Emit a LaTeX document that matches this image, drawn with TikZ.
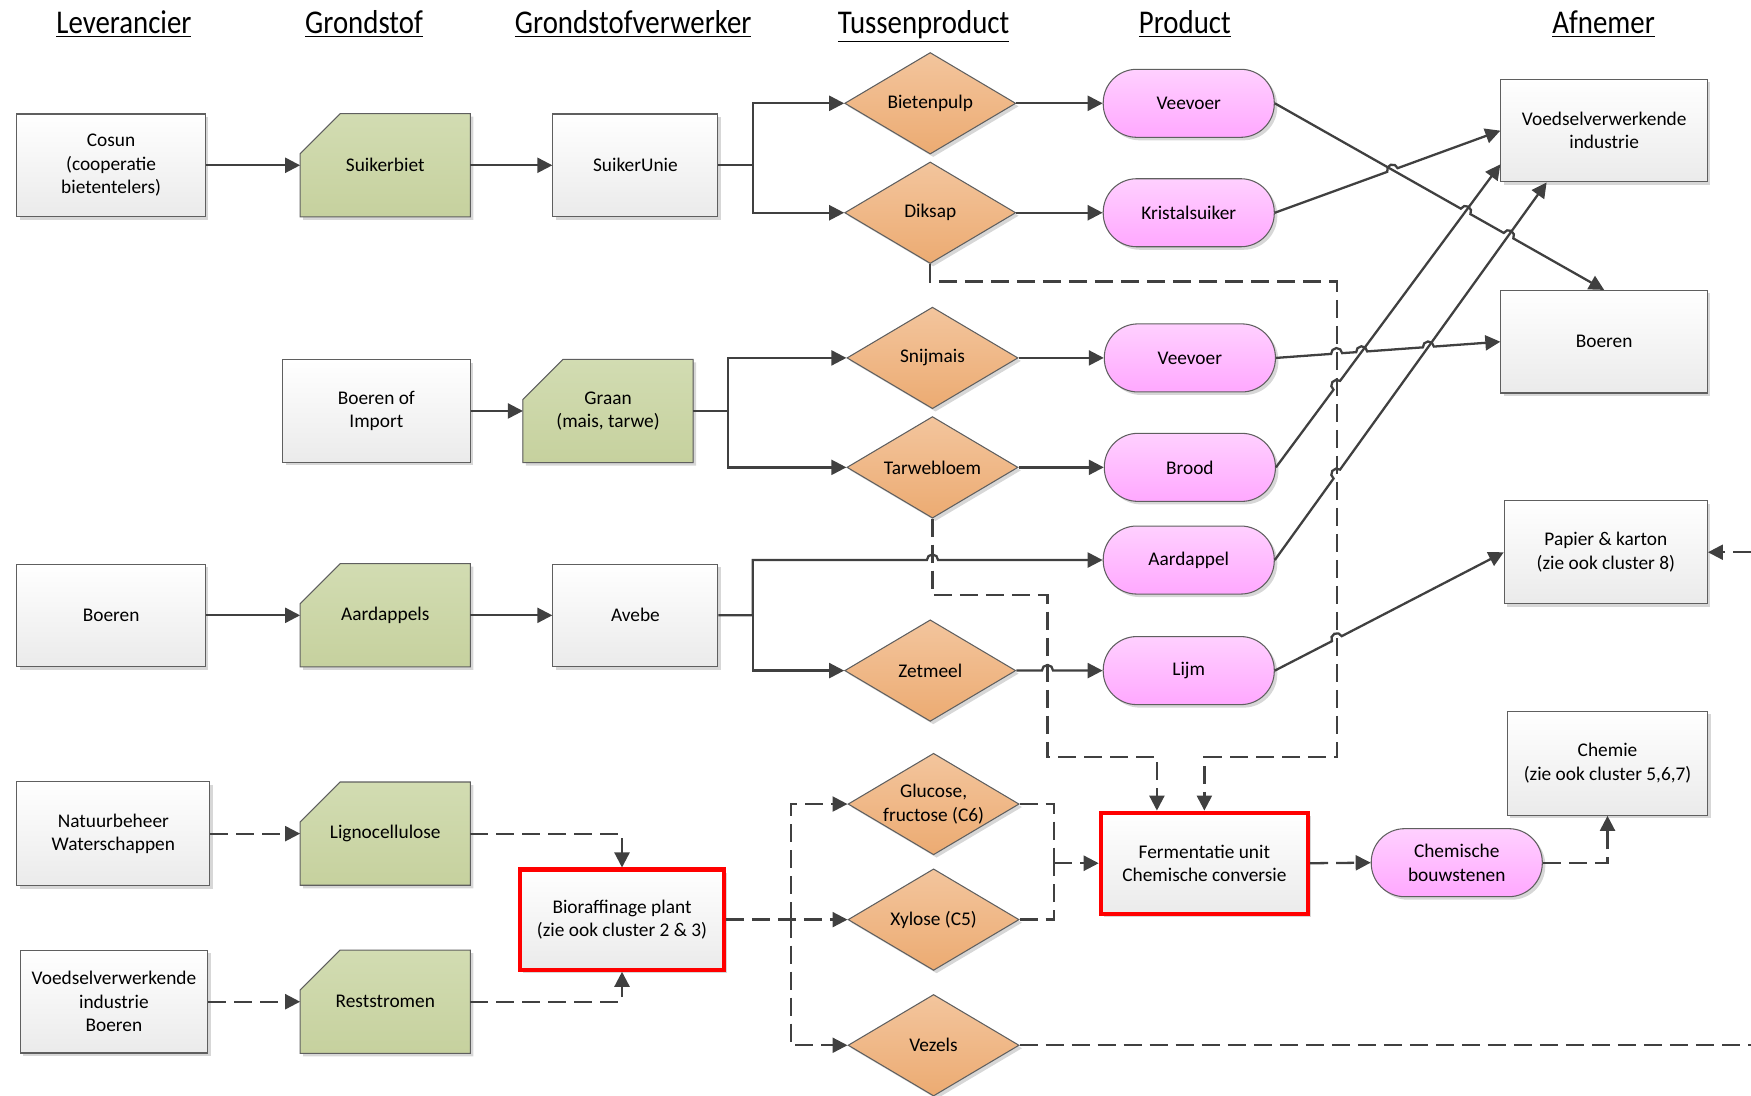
\documentclass[tikz,border=0pt]{standalone}
\usepackage{fontspec}
\setmainfont{Carlito}
\usetikzlibrary{shapes.geometric,arrows.meta,positioning,calc,shadows,backgrounds}

\definecolor{lijn}{RGB}{64,64,64}
\definecolor{rand}{RGB}{95,95,95}
\definecolor{oranjeboven}{RGB}{243,197,157}
\definecolor{oranjeonder}{RGB}{236,171,114}
\definecolor{roseboven}{RGB}{255,208,255}
\definecolor{roseonder}{RGB}{255,168,255}
\definecolor{groenboven}{RGB}{210,220,178}
\definecolor{groenonder}{RGB}{198,209,158}
\definecolor{rood}{RGB}{255,0,0}

\begin{document}
\begin{tikzpicture}[
    x=0.022321cm, y=0.022321cm,
    font=\fontsize{11}{13.3}\selectfont,
    schaduw/.style={drop shadow={shadow xshift=0.06cm, shadow yshift=-0.06cm, fill=black!45, opacity=0.35}},
    box/.style={rectangle, draw=rand, line width=0.6pt, top color=white, bottom color=black!8, minimum width=3.77cm, minimum height=2.05cm, align=center, schaduw},
    rodebox/.style={box, draw=rood, line width=2.4pt},
    grond/.style={rectangle, minimum width=3.39cm, minimum height=2.05cm, align=center},
    grondvlak/.style={draw=rand, line width=0.6pt, top color=groenboven, bottom color=groenonder, schaduw},
    tussen/.style={diamond, aspect=1.68, inner sep=-4pt, minimum width=3.42cm, minimum height=2.03cm, draw=rand, line width=0.6pt, top color=oranjeboven, bottom color=oranjeonder, align=center, schaduw},
    product/.style={rectangle, rounded corners=0.67cm, minimum width=3.42cm, minimum height=1.36cm, draw=rand, line width=0.6pt, top color=roseboven, bottom color=roseonder, align=center, schaduw},
    kop/.style={anchor=base, font=\fontsize{16.4}{19}\selectfont},
    pijl/.style={-{Triangle[length=0.3cm, width=0.3cm]}, lijn, line width=1.3pt},
    stippel/.style={lijn, line width=1.3pt, dash pattern=on 0.36cm off 0.16cm},
    stippelpijl/.style={pijl, dash pattern=on 0.36cm off 0.16cm}
]
    \useasboundingbox (0,0) rectangle (1568,-981);

    % Koppen
    \node[kop] (klev) at (111,-30) {\scalebox{1}[1.15]{\underline{Leverancier}}};
    \node[kop] (kgrond) at (326,-30) {\scalebox{1}[1.15]{\underline{Grondstof}}};
    \node[kop] (kverw) at (567,-30) {\scalebox{1}[1.15]{\underline{Grondstofverwerker}}};
    \node[kop] (ktussen) at (827,-30) {\scalebox{1}[1.15]{\underline{Tussenproduct}}};
    \node[kop] (kprod) at (1061,-30) {\scalebox{1}[1.15]{\underline{Product}}};
    \node[kop] (kafn) at (1436,-30) {\scalebox{1}[1.15]{\underline{Afnemer}}};

    % Suikerbiet
    \node[box] (cosun) at (99.5,-148) {Cosun\\(cooperatie\\bietentelers)};
    \node[grond] (suikerbiet) at (345,-148) {Suikerbiet};
    \node[box, minimum width=3.30cm] (suikerunie) at (569,-148) {SuikerUnie};
    \node[tussen] (bietenpulp) at (833,-92.5) {Bietenpulp};
    \node[tussen] (diksap) at (833,-190.5) {Diksap};
    \node[product] (veevoera) at (1064.5,-92.5) {Veevoer};
    \node[product] (kristalsuiker) at (1064.5,-190.5) {Kristalsuiker};

    % Afnemers
    \node[box, minimum width=4.13cm] (voedsel) at (1436.5,-117) {Voedselverwerkende\\industrie};
    \node[box, minimum width=4.13cm] (boerenafn) at (1436.5,-306) {Boeren};
    \node[box, minimum width=4.06cm] (papier) at (1438,-494.5) {Papier \& karton\\(zie ook cluster 8)};
    \node[box, minimum width=4.0cm, minimum height=2.08cm] (chemie) at (1439.5,-683.5) {Chemie\\(zie ook cluster 5,6,7)};

    % Graan
    \node[box, minimum width=3.75cm] (boerenimport) at (337,-368) {Boeren of\\Import};
    \node[grond] (graan) at (544.5,-368) {Graan\\(mais, tarwe)};
    \node[tussen] (snijmais) at (835,-320.5) {Snijmais};
    \node[tussen] (tarwebloem) at (835,-418.5) {Tarwebloem};
    \node[product] (veevoerb) at (1065.5,-320.5) {Veevoer};
    \node[product] (brood) at (1065.5,-418.5) {Brood};

    % Aardappel
    \node[box] (boerenlev) at (99.5,-551) {Boeren};
    \node[grond] (aardappels) at (345,-551) {Aardappels};
    \node[box, minimum width=3.30cm] (avebe) at (569,-551) {Avebe};
    \node[product] (aardappel) at (1064.5,-501.5) {Aardappel};
    \node[tussen] (zetmeel) at (833,-600.5) {Zetmeel};
    \node[product] (lijm) at (1064.5,-600.5) {Lijm};

    % Bioraffinage
    \node[box, minimum width=3.86cm, minimum height=2.08cm] (natuur) at (101.5,-746.5) {Natuurbeheer\\Waterschappen};
    \node[grond] (ligno) at (345,-746.5) {Lignocellulose};
    \node[box, minimum width=3.75cm] (vibo) at (102,-897) {Voedselverwerkende\\industrie\\Boeren};
    \node[grond] (rest) at (345,-897) {Reststromen};
    \node[rodebox, minimum width=4.07cm, minimum height=2.0cm] (bio) at (557,-823.5) {Bioraffinage plant\\(zie ook cluster 2 \& 3)};
    \node[tussen] (glucose) at (836,-720) {Glucose,\\fructose (C6)};
    \node[tussen] (xylose) at (836,-823.5) {Xylose (C5)};
    \node[tussen] (vezels) at (836,-936) {Vezels};
    \node[rodebox, minimum width=4.14cm, minimum height=2.02cm] (ferment) at (1078.5,-773) {Fermentatie unit\\Chemische conversie};
    \node[product] (bouw) at (1304.5,-772.5) {Chemische\\bouwstenen};

    % Grondstof vlakken
    \begin{scope}[on background layer]
        \foreach \g in {suikerbiet,graan,aardappels,ligno,rest}
            \filldraw[grondvlak] (\g.south west) -- (\g.south east) -- (\g.north east)
                -- ([xshift=0.8cm]\g.north west) -- ([yshift=-0.8cm]\g.north west) -- cycle;
    \end{scope}

    % Hulppunten
    \coordinate (sp1) at (674,-148);
    \coordinate (sp2) at (652,-368);
    \coordinate (sp3) at (674,-551);
    \coordinate (dk1) at (1197,-252);
    \coordinate (dk2) at (1197,-678);
    \coordinate (tw4) at (1036,-678);
    \coordinate (split) at (708,-823.5);
    \coordinate (samen) at (944,-773);
    \coordinate (randa) at (1568,-494.5);
    \coordinate (randb) at (1568,-936);

    % Kruispunten
    \coordinate (jA) at (intersection of veevoera.east--boerenafn.north and kristalsuiker.east--voedsel.west);
    \coordinate (jB) at (intersection of veevoera.east--boerenafn.north and brood.east--voedsel.198);
    \coordinate (jC) at (intersection of veevoera.east--boerenafn.north and aardappel.east--voedsel.222);
    \coordinate (jD) at (intersection of veevoerb.east--boerenafn.west and dk1--dk2);
    \coordinate (jE) at (intersection of veevoerb.east--boerenafn.west and brood.east--voedsel.198);
    \coordinate (jF) at (intersection of veevoerb.east--boerenafn.west and aardappel.east--voedsel.222);
    \coordinate (jG) at (intersection of brood.east--voedsel.198 and dk1--dk2);
    \coordinate (jH) at (intersection of aardappel.east--voedsel.222 and dk1--dk2);
    \coordinate (jI) at (intersection of lijm.east--papier.west and dk1--dk2);

    % Pijlen suikerbiet
    \draw[pijl] (cosun) -- (suikerbiet);
    \draw[pijl] (suikerbiet) -- (suikerunie);
    \draw[pijl] (suikerunie.east) -- (sp1) |- (bietenpulp.west);
    \draw[pijl] (sp1) |- (diksap.west);
    \draw[pijl] (bietenpulp) -- (veevoera);
    \draw[pijl] (diksap) -- (kristalsuiker);

    % Pijlen graan
    \draw[pijl] (boerenimport) -- (graan);
    \draw[pijl] (graan.east) -- (sp2) |- (snijmais.west);
    \draw[pijl] (sp2) |- (tarwebloem.west);
    \draw[pijl] (snijmais) -- (veevoerb);
    \draw[pijl] (tarwebloem) -- (brood);

    % Pijlen aardappel
    \draw[pijl] (boerenlev) -- (aardappels);
    \draw[pijl] (aardappels) -- (avebe);
    \draw[pijl] (avebe.east) -- (sp3) -- (674,-501.5) -- (830,-501.5) arc[start angle=180, end angle=0, radius=0.1116cm] -- (aardappel.west);
    \draw[pijl] (sp3) |- (zetmeel.west);
    \draw[pijl] (zetmeel.east) -- (933,-600.5) arc[start angle=180, end angle=0, radius=0.1116cm] -- (lijm.west);

    % Pijlen naar afnemers
    \draw[pijl] (veevoera.east) -- ($(jB)!0.11cm!(veevoera.east)$) arc[start angle=150.3, end angle=-29.7, radius=0.11cm]
        -- ($(jC)!0.11cm!(veevoera.east)$) arc[start angle=150.3, end angle=-29.7, radius=0.11cm] -- (boerenafn.north);
    \draw[pijl] (kristalsuiker.east) -- ($(jA)!0.11cm!(kristalsuiker.east)$) arc[start angle=199.5, end angle=19.5, radius=0.11cm] -- (voedsel.west);
    \draw[pijl] (veevoerb.east) -- ($(jD)!0.11cm!(veevoerb.east)$) arc[start angle=184, end angle=4, radius=0.11cm]
        -- ($(jE)!0.11cm!(veevoerb.east)$) arc[start angle=184, end angle=4, radius=0.11cm]
        -- ($(jF)!0.11cm!(veevoerb.east)$) arc[start angle=184, end angle=4, radius=0.11cm] -- (boerenafn.west);
    \draw[pijl] (brood.east) -- ($(jG)!0.11cm!(brood.east)$) arc[start angle=233.4, end angle=53.4, radius=0.11cm] -- (voedsel.198);
    \draw[pijl] (aardappel.east) -- ($(jH)!0.11cm!(aardappel.east)$) arc[start angle=234.1, end angle=54.1, radius=0.11cm] -- (voedsel.222);
    \draw[pijl] (lijm.east) -- ($(jI)!0.11cm!(lijm.east)$) arc[start angle=207, end angle=27, radius=0.11cm] -- (papier.west);

    % Stippellijnen naar fermentatie
    \draw[stippelpijl] (diksap.south) -- (diksap.south |- dk1) -- (dk1) -- (dk2) -| (ferment.north);
    \draw[stippelpijl] (tarwebloem.south) -- (835,-533) -- (938,-533) -- (938,-678) -- (tw4) -- (tw4 |- ferment.north);

    % Stippellijnen bioraffinage
    \draw[stippelpijl] (natuur) -- (ligno);
    \draw[stippelpijl] (vibo) -- (rest);
    \draw[stippelpijl] (ligno.east) -| (bio.north);
    \draw[stippelpijl] (rest.east) -| (bio.south);
    \draw[stippelpijl] (bio.east) -- (xylose.west);
    \draw[stippelpijl] (split) |- (glucose.west);
    \draw[stippelpijl] (split) |- (vezels.west);
    \draw[stippel] (glucose.east) -| (samen);
    \draw[stippel] (xylose.east) -| (samen);
    \draw[stippelpijl] (samen) -- (ferment.west);
    \draw[stippelpijl] (ferment.east) -- (bouw.west);
    \draw[stippelpijl] (bouw.east) -| (chemie.south);
    \draw[stippel] (vezels.east) -- (randb);
    \draw[stippelpijl] (randa) -- (papier.east);

\end{tikzpicture}
\end{document}
